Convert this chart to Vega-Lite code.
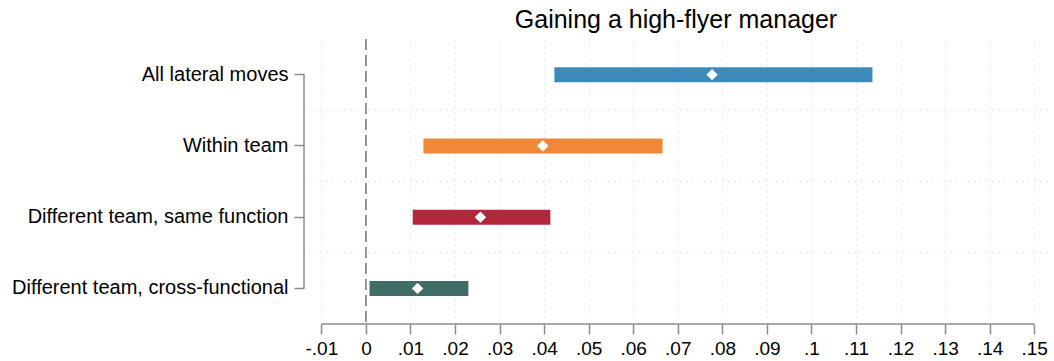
{
  "$schema": "https://vega.github.io/schema/vega-lite/v6.json",
  "width": 744,
  "height": 285,
  "autosize": {"type": "none"},
  "padding": {"left": 304, "top": 39, "right": 6, "bottom": 37},
  "background": "white",
  "title": {
    "text": "Gaining a high-flyer manager",
    "font": "Liberation Sans",
    "fontSize": 25,
    "fontWeight": "normal",
    "color": "#000000",
    "anchor": "middle",
    "offset": 5
  },
  "config": {
    "view": {"stroke": null},
    "font": "Liberation Sans"
  },
  "datasets": {
    "est": [
      {"group": "All lateral moves", "lo": 0.0423, "hi": 0.1137, "b": 0.0777},
      {"group": "Within team", "lo": 0.0129, "hi": 0.0666, "b": 0.0397},
      {"group": "Different team, same function", "lo": 0.0105, "hi": 0.0414, "b": 0.0257},
      {"group": "Different team, cross-functional", "lo": 0.0008, "hi": 0.0230, "b": 0.0116}
    ],
    "bands": [
      {"group": "Within team"},
      {"group": "Different team, same function"},
      {"group": "Different team, cross-functional"}
    ],
    "ref": [{"x": 0}],
    "yline": [{"x": -0.0139, "from": "All lateral moves", "to": "Different team, cross-functional"}],
    "xline": [{"from": -0.01, "to": 0.15, "group": "Different team, cross-functional"}]
  },
  "layer": [
    {
      "data": {"name": "bands"},
      "mark": {"type": "rule", "color": "#dcdcdc", "strokeDash": [1.5, 4.5], "strokeWidth": 1},
      "encoding": {
        "y": {
          "field": "group", "type": "nominal", "bandPosition": 0,
          "scale": {
            "domain": ["All lateral moves", "Within team", "Different team, same function", "Different team, cross-functional"],
            "paddingInner": 0, "paddingOuter": 0
          },
          "axis": {
            "title": null, "domain": false, "grid": false, "ticks": true,
            "tickSize": 10, "tickColor": "#8c8c8c", "tickWidth": 1.5,
            "labelFontSize": 20, "labelColor": "#000000", "labelPadding": 6, "labelLimit": 400
          }
        }
      }
    },
    {
      "data": {"name": "ref"},
      "mark": {"type": "rule", "color": "#8c8c8c", "strokeWidth": 1.8, "strokeDash": [11, 5]},
      "encoding": {
        "x": {
          "field": "x", "type": "quantitative",
          "scale": {"domain": [-0.0139, 0.1531], "nice": false, "zero": false},
          "axis": {
            "title": null,
            "values": [-0.01, 0, 0.01, 0.02, 0.03, 0.04, 0.05, 0.06, 0.07, 0.08, 0.09, 0.1, 0.11, 0.12, 0.13, 0.14, 0.15],
            "labelExpr": "datum.value == 0 ? '0' : replace(replace(format(datum.value, '.2~f'), '0.', '.'), '\u2212', '-')",
            "domain": false, "tickSize": 10, "tickColor": "#8c8c8c", "tickWidth": 1.5,
            "labelFontSize": 19, "labelColor": "#000000", "labelPadding": 5,
            "labelFlush": false, "labelOverlap": false,
            "grid": true, "gridColor": "#dcdcdc", "gridDash": [1.5, 4.5], "gridWidth": 1
          }
        }
      }
    },
    {
      "data": {"name": "yline"},
      "mark": {"type": "rule", "color": "#8c8c8c", "strokeWidth": 1.5},
      "encoding": {
        "x": {"field": "x", "type": "quantitative"},
        "y": {"field": "from", "type": "nominal"},
        "y2": {"field": "to"}
      }
    },
    {
      "data": {"name": "xline"},
      "mark": {"type": "rule", "color": "#8c8c8c", "strokeWidth": 1.5},
      "encoding": {
        "x": {"field": "from", "type": "quantitative"},
        "x2": {"field": "to"},
        "y": {"field": "group", "type": "nominal", "bandPosition": 1}
      }
    },
    {
      "data": {"name": "est"},
      "mark": {"type": "bar", "size": 15},
      "encoding": {
        "x": {"field": "lo", "type": "quantitative"},
        "x2": {"field": "hi"},
        "y": {"field": "group", "type": "nominal"},
        "color": {
          "field": "group", "type": "nominal", "legend": null,
          "scale": {
            "domain": ["All lateral moves", "Within team", "Different team, same function", "Different team, cross-functional"],
            "range": ["#3d8bbd", "#f0883a", "#b2283b", "#3f6e66"]
          }
        }
      }
    },
    {
      "data": {"name": "est"},
      "mark": {"type": "point", "shape": "diamond", "filled": true, "color": "white", "size": 130, "opacity": 1},
      "encoding": {
        "x": {"field": "b", "type": "quantitative"},
        "y": {"field": "group", "type": "nominal"}
      }
    }
  ]
}
